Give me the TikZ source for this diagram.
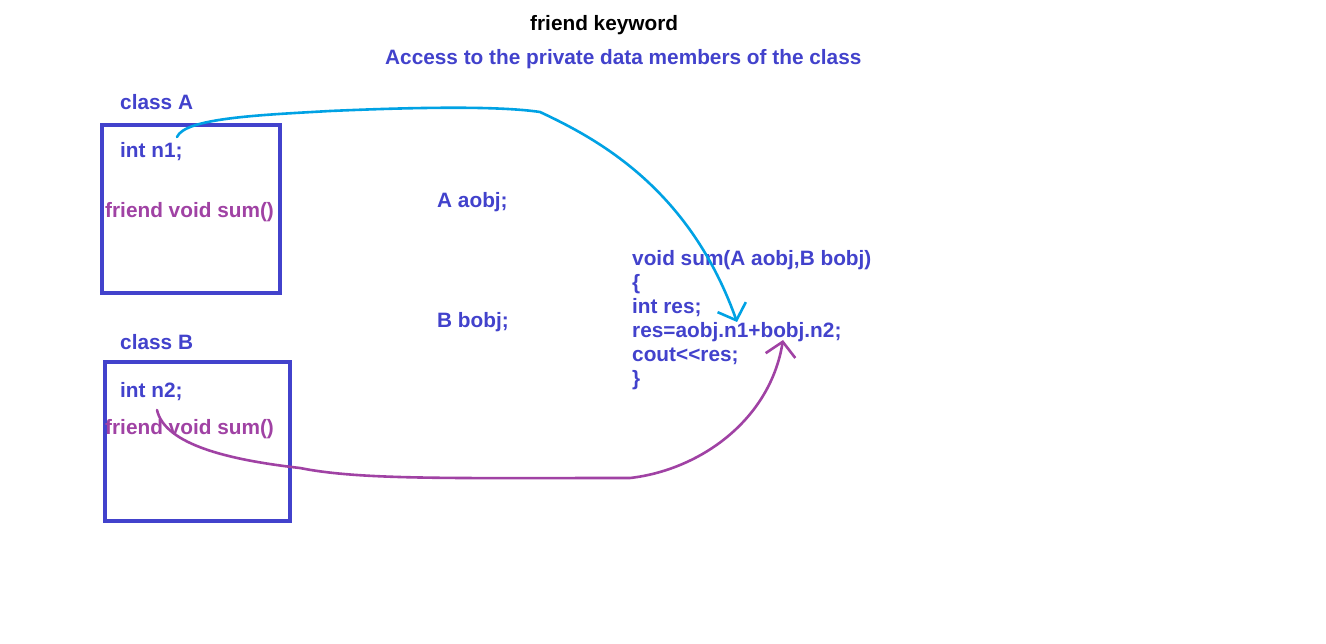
\documentclass[tikz,border=0pt]{standalone}
\usepackage{fontspec}
\setmainfont{Liberation Sans}
\usetikzlibrary{arrows.meta}
\definecolor{tblue}{RGB}{66,66,204}
\definecolor{tpurple}{RGB}{160,66,164}
\definecolor{acyan}{RGB}{0,162,228}
\begin{document}
\begin{tikzpicture}[x=1pt,y=-1pt,
  txt/.style={anchor=base west,inner sep=0pt,font=\fontsize{20.8}{24}\selectfont\bfseries,text=tblue},
  ftxt/.style={txt,text=tpurple},
  classbox/.style={draw=tblue,line width=4.5pt},
  hand/.style={line width=2.6pt,line cap=round,line join=round},
  tip/.style={-{Straight Barb[length=14pt,width=30pt,line width=2.6pt]}}]
\useasboundingbox[fill=white] (0,0) rectangle (1326,644);
% titles
\node[txt,text=black] (title) at (530,31) {friend keyword};
\node[txt] (sub) at (385,65) {Access to the private data members of the class};
% class A
\node[txt] (classA) at (120,110) {class A};
\draw[classbox] (102,125) rectangle (280,293);
\node[txt] (n1) at (120,158) {int n1;};
\node[ftxt] (fA) at (105,218) {friend void sum()};
% class B
\node[txt] (classB) at (120,350) {class B};
\draw[classbox] (105,362) rectangle (290,521);
\node[txt] (n2) at (120,398) {int n2;};
\node[ftxt] (fB) at (105,434) {friend void sum()};
% objects
\node[txt] (aobj) at (437,208) {A aobj;};
\node[txt] (bobj) at (437,328) {B bobj;};
% code
\node[txt] (c1) at (632,266) {void sum(A aobj,B bobj)};
\node[txt] (c2) at (632,290) {\{};
\node[txt] (c3) at (632,314) {int res;};
\node[txt] (c4) at (632,338) {res=aobj.n1+bobj.n2;};
\node[txt] (c5) at (632,362) {cout<{}<res;};
\node[txt] (c6) at (632,386) {\}};
% connectors
\coordinate (sA) at (177,137);
\coordinate (eA) at (737,322);
\coordinate (sB) at (157,410);
\coordinate (eB) at (783,340);
\draw[hand,acyan,tip] (sA) .. controls (185,118) and (260,115) .. (330,111)
  .. controls (420,107) and (500,106) .. (540,112)
  .. controls (600,140) and (690,190) .. (eA);
\draw[hand,tpurple,tip] (sB) .. controls (165,445) and (230,460) .. (300,468)
  .. controls (360,480) and (450,478) .. (630,478)
  .. controls (700,470) and (770,420) .. (eB);
\end{tikzpicture}
\end{document}
